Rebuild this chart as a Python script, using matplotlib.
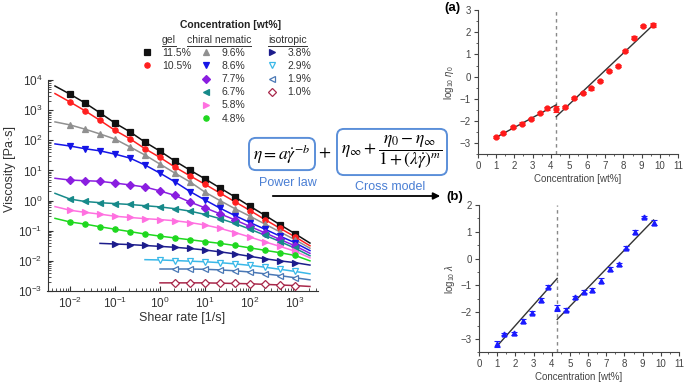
import matplotlib
matplotlib.use("Agg")
import matplotlib.pyplot as plt
import numpy as np
from matplotlib.ticker import LogLocator, MultipleLocator, NullFormatter, FixedLocator
from matplotlib.patches import FancyArrowPatch
from matplotlib.lines import Line2D

plt.rcParams["font.family"] = ["Liberation Sans", "DejaVu Sans"]
plt.rcParams["mathtext.fontset"] = "custom"
plt.rcParams["mathtext.rm"] = "Liberation Sans"
plt.rcParams["mathtext.it"] = "Liberation Sans:italic"
plt.rcParams["mathtext.bf"] = "Liberation Sans:bold"

W, H = 685, 382

# ---- flow curves (log10 viscosity) ----
shear_rate = [0.01, 0.0215, 0.0464, 0.1, 0.215, 0.464, 1.0, 2.15, 4.64,
              10.0, 21.5, 46.4, 100.0, 215.0, 464.0, 1000.0]
# fit lines run one grid step past the first / last measured point
fit_rate_lo = [0.00464, 0.01, 0.0215, 0.0464, 0.1, 0.215, 0.464, 1.0]
fit_rate_hi = 2150.0

labels = ["11.5%", "10.5%", "9.6%", "8.6%", "7.7%", "6.7%", "5.8%", "4.8%",
          "3.8%", "2.9%", "1.9%", "1.0%"]
colors = ["#111111", "#ff2020", "#909090", "#1515e6", "#8a1ee0", "#178a8a",
          "#ff70e0", "#1fd81f", "#1c1c8c", "#3ab8e8", "#4a78b5", "#a8284a"]
markers = ["s", "o", "^", "v", "D", "<", ">", "o", ">", "v", "<", "D"]
open_marker = [False] * 9 + [True, True, True]
first_idx = [0, 0, 0, 0, 0, 0, 0, 0, 3, 6, 7, 7]

eta_115 = [3.53, 3.24, 2.91, 2.57, 2.28, 1.94, 1.64, 1.31, 1.01, 0.72, 0.42, 0.12, -0.19, -0.49, -0.80, -1.10]
eta_105 = [3.27, 2.98, 2.66, 2.33, 2.05, 1.72, 1.43, 1.11, 0.82, 0.54, 0.25, -0.04, -0.33, -0.63, -0.92, -1.20]
eta_96 = [2.51, 2.37, 2.21, 2.04, 1.78, 1.51, 1.21, 0.91, 0.62, 0.28, 0.00, -0.27, -0.52, -0.78, -1.04, -1.30]
eta_86 = [1.81, 1.72, 1.65, 1.54, 1.41, 1.18, 0.91, 0.62, 0.30, 0.02, -0.25, -0.50, -0.73, -0.95, -1.18, -1.40]
eta_77 = [0.68, 0.66, 0.64, 0.58, 0.52, 0.45, 0.32, 0.17, -0.05, -0.24, -0.44, -0.64, -0.86, -1.07, -1.29, -1.50]
eta_67 = [0.05, -0.03, -0.07, -0.10, -0.13, -0.17, -0.21, -0.27, -0.35, -0.46, -0.60, -0.76, -0.95, -1.15, -1.36, -1.58]
eta_58 = [-0.32, -0.39, -0.45, -0.52, -0.56, -0.60, -0.63, -0.67, -0.73, -0.81, -0.92, -1.06, -1.21, -1.37, -1.52, -1.68]
eta_48 = [-0.71, -0.78, -0.87, -0.95, -1.03, -1.11, -1.18, -1.24, -1.30, -1.36, -1.42, -1.49, -1.57, -1.65, -1.73, -1.82]
eta_38 = [-1.44, -1.46, -1.49, -1.52, -1.55, -1.59, -1.64, -1.70, -1.77, -1.85, -1.93, -2.00, -2.06]
eta_29 = [-1.97, -1.99, -2.01, -2.03, -2.06, -2.10, -2.15, -2.21, -2.28, -2.35]
eta_19 = [-2.27, -2.27, -2.28, -2.30, -2.33, -2.37, -2.43, -2.49, -2.56]
eta_10 = [-2.73, -2.73, -2.73, -2.74, -2.75, -2.76, -2.78, -2.80, -2.82]
eta_fit_start = [3.80, 3.55, 2.61, 1.88, 0.74, 0.24, -0.20, -0.59, -1.42, -1.96, -2.27, -2.73]
eta_fit_end = [-1.41, -1.50, -1.58, -1.66, -1.75, -1.83, -1.90, -2.00, -2.14, -2.43, -2.63, -2.85]

all_eta = [eta_115, eta_105, eta_96, eta_86, eta_77, eta_67, eta_58, eta_48,
           eta_38, eta_29, eta_19, eta_10]

x_major = [1e-2, 1e-1, 1e0, 1e1, 1e2, 1e3]
y_major = [1e-3, 1e-2, 1e-1, 1e0, 1e1, 1e2, 1e3, 1e4]

# ---- fitted parameters vs concentration ----
conc = [1.0, 1.4, 1.9, 2.4, 2.9, 3.4, 3.8, 4.3, 4.8, 5.3, 5.8, 6.2, 6.7, 7.2, 7.7, 8.1, 8.6, 9.1, 9.6]
log_eta0 = [-2.71, -2.53, -2.26, -2.11, -1.91, -1.62, -1.43, -1.47, -1.38, -0.95, -0.72,
            -0.53, -0.20, 0.25, 0.49, 1.15, 1.75, 2.28, 2.32]
err_eta0 = [0.06, 0.05, 0.05, 0.05, 0.05, 0.05, 0.05, 0.13, 0.05, 0.05, 0.05,
            0.06, 0.05, 0.05, 0.05, 0.05, 0.07, 0.05, 0.09]
log_lam = [-3.19, -2.81, -2.79, -2.33, -2.02, -1.54, -1.05, -1.86, -1.90, -1.44, -1.23,
           -1.17, -0.82, -0.39, -0.21, 0.41, 1.00, 1.56, 1.34]
err_lam = [0.12, 0.05, 0.06, 0.06, 0.05, 0.07, 0.05, 0.11, 0.06, 0.06, 0.07,
           0.08, 0.08, 0.07, 0.05, 0.05, 0.07, 0.04, 0.10]
transition = 4.3
fit_a_x = [[1.0, 4.3], [4.3, 9.6]]
fit_a_y = [[-2.73, -1.27], [-1.80, 2.30]]
fit_b_x = [[1.0, 4.3], [4.3, 9.6]]
fit_b_y = [[-3.26, -0.74], [-2.27, 1.44]]


def fx(px):
    return px / W


def fy(py):
    return 1 - py / H


fig = plt.figure(figsize=(W / 100, H / 100), dpi=100)

# main flow-curve panel
ax = fig.add_axes([fx(47.5), fy(291), 270 / W, 211 / H])
handles = []
for i in range(12):
    f = first_idx[i]
    c = colors[i]
    line_x = [fit_rate_lo[f]] + shear_rate[f:] + [fit_rate_hi]
    line_y = 10 ** np.array([eta_fit_start[i]] + all_eta[i] + [eta_fit_end[i]])
    ax.plot(line_x, line_y, color=c, lw=1.1, zorder=2)
    mfc = "white" if open_marker[i] else c
    h, = ax.plot(shear_rate[f:], 10 ** np.array(all_eta[i]), ls="none", marker=markers[i],
                 ms=3.8, color=c, mfc=mfc, mew=0.9, zorder=3)
    handles.append(h)

ax.set_xscale("log")
ax.set_yscale("log")
ax.set_xlim(10 ** -2.5, 10 ** 3.5)
ax.set_ylim(1e-3, 1e4)
for s in ["top", "right"]:
    ax.spines[s].set_visible(False)
for s in ["left", "bottom"]:
    ax.spines[s].set_color("#333333")
ax.xaxis.set_major_locator(FixedLocator(x_major))
ax.yaxis.set_major_locator(FixedLocator(y_major))
ax.xaxis.set_minor_locator(LogLocator(base=10, subs=np.arange(2, 10), numticks=50))
ax.yaxis.set_minor_locator(LogLocator(base=10, subs=np.arange(2, 10), numticks=50))
ax.xaxis.set_minor_formatter(NullFormatter())
ax.yaxis.set_minor_formatter(NullFormatter())
ax.tick_params(which="both", direction="in", colors="#333333", labelsize=8.5)
ax.tick_params(which="major", length=3.5)
ax.tick_params(which="minor", length=2)
ax.set_xlabel("Shear rate [1/s]", fontsize=9, color="#333333", labelpad=1)
ax.set_ylabel("Viscosity [Pa·s]", fontsize=9, color="#333333")
ax.yaxis.set_label_coords(-0.115, 0.58)

# legend in three columns with underlined group headers
fig.text(fx(231), fy(25), "Concentration [wt%]", fontsize=7.5, fontweight="bold",
         ha="center", va="center", color="#222222")
renderer = fig.canvas.get_renderer()
for name, px in [("gel", 162), ("chiral nematic", 187), ("isotropic", 268)]:
    t = fig.text(fx(px), fy(40), name, fontsize=7.5, ha="left", va="center", color="#333333")
    bb = t.get_window_extent(renderer=renderer)
    fig.add_artist(Line2D([bb.x0 / W, bb.x1 / W], [(bb.y0 - 0.5) / H] * 2,
                          transform=fig.transFigure, color="#333333", lw=0.7))
groups = [[0, 1], [2, 3, 4, 5, 6, 7], [8, 9, 10, 11]]
group_x = [142.5, 201.5, 267.5]
for g, gx in zip(groups, group_x):
    leg = fig.legend(handles=[handles[i] for i in g], labels=[labels[i] for i in g],
                     loc="upper left", bbox_to_anchor=(fx(gx), fy(48)), frameon=False,
                     fontsize=7.5, handlelength=0.8, handletextpad=1.1, labelspacing=0.3,
                     borderpad=0, borderaxespad=0, numpoints=1)
    for t in leg.get_texts():
        t.set_color("#333333")

# model equation
eq_kw = dict(fontsize=12.5, math_fontfamily="stix", ha="center", va="center")
box = dict(boxstyle="round,pad=0.25,rounding_size=0.4", fc="white", ec="#5b8fd9", lw=1.4)
fig.text(fx(282), fy(154), r"$\eta = a\dot{\gamma}^{-b}$", bbox=box, **eq_kw)
fig.text(fx(325), fy(153), r"$+$", **eq_kw)
fig.text(fx(392), fy(152), r"$\eta_\infty + \dfrac{\eta_0 - \eta_\infty}{1 + (\lambda\dot{\gamma})^m}$",
         bbox=box, **eq_kw)
fig.text(fx(288), fy(183), "Power law", fontsize=9, color="#4a7fd4", ha="center", va="center")
fig.text(fx(390), fy(187), "Cross model", fontsize=9, color="#4a7fd4", ha="center", va="center")
fig.add_artist(FancyArrowPatch((fx(270), fy(196)), (fx(443), fy(196)), transform=fig.transFigure,
                               arrowstyle="-|>", mutation_scale=10, lw=1.3, color="black"))
fig.text(fx(452), fy(8), "(a)", fontsize=9.5, fontweight="bold", ha="center", va="center")
fig.text(fx(455), fy(197), "(b)", fontsize=9.5, fontweight="bold", ha="center", va="center")

# right panels
ax_a = fig.add_axes([fx(478), fy(154.4), 200 / W, 144.4 / H])
ax_b = fig.add_axes([fx(479), fy(352.4), 200 / W, 147.4 / H])
panels = [(ax_a, log_eta0, err_eta0, "#ff1a1a", "o", fit_a_x, fit_a_y, (-3.5, 3),
           r"log$_{10}$ $\eta_0$"),
          (ax_b, log_lam, err_lam, "#1a1aff", "^", fit_b_x, fit_b_y, (-3.5, 2),
           r"log$_{10}$ $\lambda$")]
for a, vals, errs, c, m, fxs, fys, ylim, ylab in panels:
    a.axvline(transition, color="#888888", lw=1, ls=(0, (2.5, 2.5)), zorder=1)
    for xs, ys in zip(fxs, fys):
        a.plot(xs, ys, color="#333333", lw=1, zorder=2)
    a.errorbar(conc, vals, yerr=errs, fmt=m, ms=3.5, color=c, ecolor=c,
               elinewidth=0.8, capsize=2, capthick=0.8, zorder=3)
    a.set_xlim(0, 11)
    a.set_ylim(*ylim)
    a.xaxis.set_major_locator(MultipleLocator(1))
    a.xaxis.set_minor_locator(MultipleLocator(0.5))
    a.yaxis.set_major_locator(MultipleLocator(1))
    a.yaxis.set_minor_locator(MultipleLocator(0.5))
    for s in ["top", "right"]:
        a.spines[s].set_visible(False)
    for s in ["left", "bottom"]:
        a.spines[s].set_color("#444444")
    a.tick_params(which="both", direction="out", colors="#444444", labelsize=7, pad=2)
    a.tick_params(which="major", length=3)
    a.tick_params(which="minor", length=1.5)
    a.set_xlabel("Concentration [wt%]", fontsize=7, color="#444444", labelpad=2)
    a.set_ylabel(ylab, fontsize=7, color="#444444", labelpad=3)

fig.savefig("out.png", dpi=100)
